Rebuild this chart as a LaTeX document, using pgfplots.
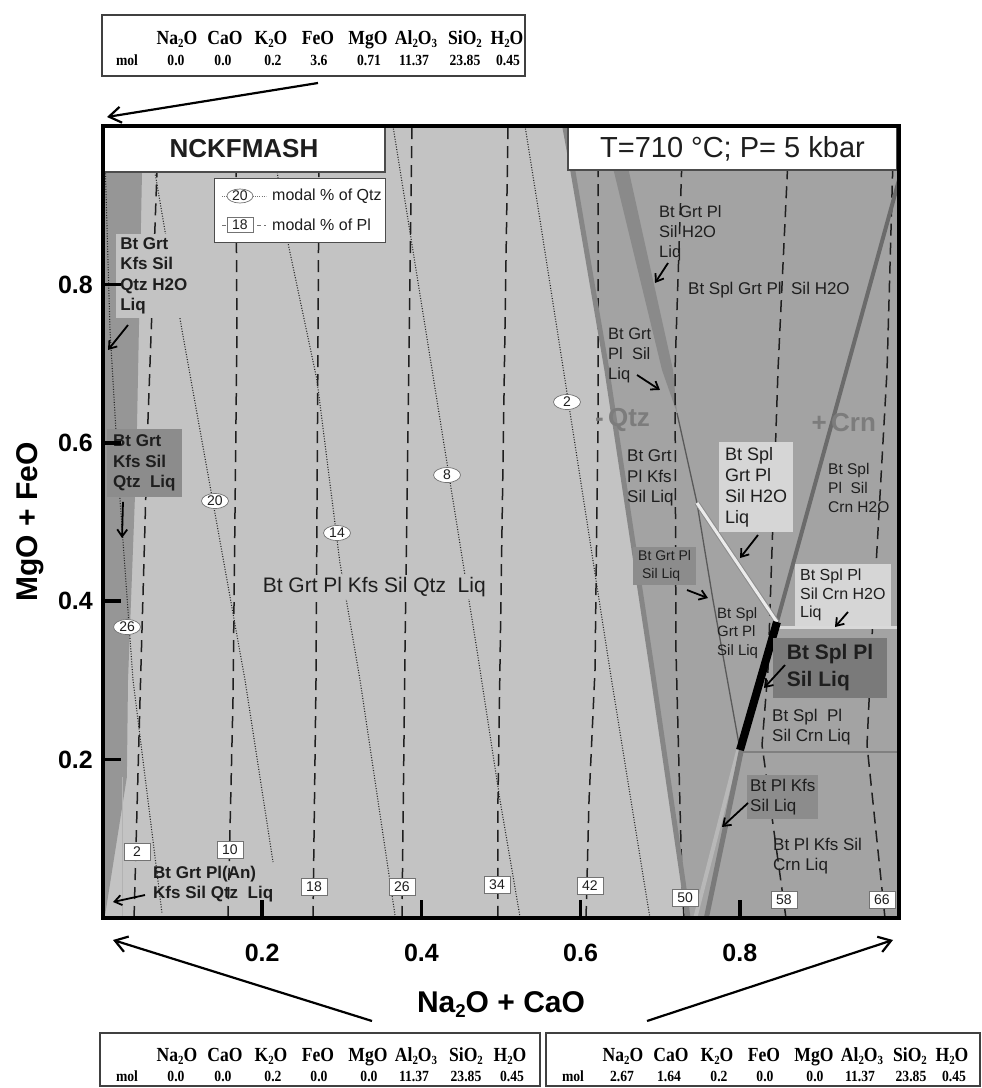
\documentclass[border=0pt]{standalone}
\usepackage{pgfplots}
\pgfplotsset{compat=1.18}
\usepackage{graphicx}
\usepackage{fontspec}
\setmainfont{Liberation Sans}
\newfontfamily\tabfont[FakeStretch=0.88]{Liberation Serif}
\usetikzlibrary{arrows.meta,shapes.geometric}
\definecolor{lightbg}{HTML}{C3C3C3}
\definecolor{medbg}{HTML}{A3A3A3}
\definecolor{darkstrip}{HTML}{969696}
\definecolor{sliver}{HTML}{8A8A8A}
\definecolor{qline}{HTML}{868686}
\definecolor{txt}{HTML}{1E1E1E}
\definecolor{boxdark}{HTML}{8C8C8C}
\definecolor{boxlight}{HTML}{D6D6D6}
\definecolor{isogray}{HTML}{7C7C7C}
\newcommand\fs[2]{\fontsize{#1}{#2}\selectfont}
\newcommand\sub[1]{\raisebox{-0.32ex}{\scalebox{0.62}{#1}}}
\tikzset{
 fl/.style={font=\fs{17}{20.5}, text=txt, align=left, anchor=west, inner sep=0pt},
 flb/.style={fl, font=\fs{17}{20.5}\bfseries},
 qiso/.style={ellipse, draw=black!55, line width=0.7pt, fill=white, inner sep=0pt, minimum width=27pt, minimum height=15pt, font=\fs{14}{16}, text=txt},
 piso/.style={rectangle, draw=black!55, line width=0.7pt, fill=white, inner sep=0pt, minimum width=26pt, minimum height=17pt, font=\fs{14}{16}, text=txt},
 arr/.style={-{Straight Barb[length=7pt,width=10pt]}, line width=1.8pt, black},
 plL/.style={color=black!88, line width=1.5pt, dash pattern=on 12pt off 7pt},
 qzL/.style={color=black!85, line width=1.1pt, dash pattern=on 1pt off 1.6pt},
 th/.style={font=\tabfont\bfseries\fs{20}{22}, inner sep=0pt, anchor=base},
 tv/.style={font=\tabfont\bfseries\fs{15.5}{18}, inner sep=0pt, anchor=base},
}
\begin{document}
\begin{tikzpicture}
\useasboundingbox (0pt,0pt) rectangle (982pt,1088pt);
\begin{axis}[
  at={(103pt,170pt)}, anchor=south west,
  scale only axis, width=796pt, height=792pt,
  xmin=0, xmax=1, ymin=0, ymax=1,
  axis on top,
  axis line style={line width=3.5pt, black},
  xtick={0.2,0.4,0.6,0.8}, ytick={0.2,0.4,0.6,0.8},
  xticklabels={0.2,0.4,0.6,0.8}, yticklabels={0.2,0.4,0.6,0.8},
  tick pos=left, tick align=inside, major tick length=18pt,
  every tick/.style={line width=3.5pt, black},
  xticklabel style={font=\fs{25}{28}\bfseries, anchor=center, yshift=-35pt},
  yticklabel style={font=\fs{25}{28}\bfseries, anchor=east, inner sep=0pt, xshift=-10pt},
  xlabel={Na\sub{2}O + CaO}, ylabel={MgO + FeO},
  xlabel style={font=\fs{30}{34}\bfseries, at={(axis description cs:0.5,-0.1098)}, anchor=center},
  ylabel style={font=\fs{30}{34}\bfseries, at={(axis description cs:-0.0917,0.5)}, anchor=center},
]
% ---- fields
\addplot[fill=lightbg, draw=none] coordinates {(0,0) (1,0) (1,1) (0,1)};
\addplot[fill=medbg, draw=none] coordinates {(0.580,1.0) (1,1) (1,0) (0.735,0) (0.729,0.044) (0.690,0.313) (0.633,0.692) (0.5905,0.942)};
\addplot[fill=darkstrip, draw=none] coordinates {(0,1.0) (0.049,1.0) (0.049,0.942) (0.0427,0.62) (0.040,0.528) (0.0314,0.30) (0.030,0.178) (0.003,0.006) (0,0)};
\addplot[fill=sliver, draw=none] coordinates {(0.628,1.0) (0.648,1.0) (0.7161,0.6919) (0.7211,0.6376) (0.7023,0.6919)};
\addplot[color=black!30, line width=1pt] coordinates {(0.025,0) (0.025,0.178)};
% ---- Pl isopleths (dashed)
\addplot[plL] coordinates {(0.039,0) (0.0465,0.2753) (0.0565,0.6288) (0.0678,0.9419)};
\addplot[plL] coordinates {(0.157,0) (0.1633,0.2753) (0.1683,0.7424) (0.167,0.96)};
\addplot[plL] coordinates {(0.2638,0) (0.2676,0.3005) (0.2714,0.96)};
\addplot[plL] coordinates {(0.3756,0) (0.3794,0.3384) (0.3882,1.0)};
\addplot[plL] coordinates {(0.4962,0) (0.4962,0.149) (0.5088,1.0)};
\addplot[plL] coordinates {(0.6068,0) (0.6106,0.149) (0.6181,0.3131) (0.6219,0.6288) (0.6219,0.96)};
\addplot[plL] coordinates {(0.7299,0) (0.7274,0.0442) (0.7198,0.3384) (0.7186,0.6919) (0.7274,0.96)};
\addplot[plL] coordinates {(0.858,0) (0.8279,0.2184) (0.8354,0.3131) (0.848,0.6919) (0.8606,0.96)};
\addplot[plL] coordinates {(0.9824,0) (0.9598,0.2184) (0.9661,0.3548) (0.985,0.6919) (0.9925,0.96)};
% ---- Qtz isopleths (dotted)
\addplot[qzL] coordinates {(0.0025,0.96) (0.0088,0.7424) (0.0214,0.5278) (0.0377,0.3005) (0.0741,0.0063)};
\addplot[qzL] coordinates {(0.0553,1.0) (0.0992,0.7424) (0.1784,0.3005) (0.2136,0.0707)};
\addplot[qzL] coordinates {(0.21,1.0) (0.2324,0.8523) (0.2688,0.6793) (0.2977,0.4482) (0.3229,0.3005) (0.3668,0.0038)};
\addplot[qzL] coordinates {(0.3643,1.0) (0.4698,0.3384) (0.4987,0.149) (0.5239,0.0013)};
\addplot[qzL] coordinates {(0.5302,1.0) (0.549,0.8813) (0.5804,0.6793) (0.6369,0.3131) (0.6834,0.0227) (0.6872,0)};
% ---- boundaries
\addplot[color=qline, line width=5pt] coordinates {(0.580,1.0) (0.5905,0.942) (0.633,0.692) (0.690,0.313) (0.729,0.044) (0.735,0)};
\addplot[color=black!65, line width=1.3pt] coordinates {(0.7211,0.6376) (0.7462,0.524) (0.7663,0.4015) (0.8003,0.2121)};
\addplot[color=black!58, line width=4pt] coordinates {(1.0,0.932) (0.8467,0.3737)};
\addplot[color=black!45, line width=5pt] coordinates {(0.7462,0.524) (0.8467,0.3737)};
\addplot[color=white!92!black, line width=3pt] coordinates {(0.7462,0.524) (0.8467,0.3737)};
\addplot[color=white!85!black, line width=3pt] coordinates {(0.848,0.3674) (1,0.3674)};
\addplot[color=black!50, line width=1.5pt] coordinates {(0.8003,0.2096) (1,0.2096)};
\addplot[color=black!28, line width=4pt] coordinates {(0.798,0.2121) (0.744,0)};
\addplot[color=black!52, line width=5pt] coordinates {(0.802,0.2121) (0.758,0)};
\addplot[color=black, line width=8pt] coordinates {(0.8467,0.3737) (0.8003,0.2121)};
% ---- headers
\node[draw=black!70, line width=1.2pt, fill=white, minimum width=282pt, minimum height=46pt, inner sep=0pt, font=\fs{26}{30}\bfseries, text=txt] at (axis cs:0.1771,0.9710) {NCKFMASH};
\node[draw=black!70, line width=1.2pt, fill=white, minimum width=329pt, minimum height=43pt, inner sep=0pt, font=\fs{29}{32}, text=txt] at (axis cs:0.7908,0.9716) {T=710 °C; P= 5 kbar};
% ---- legend
\node[draw=black!70, line width=1pt, fill=white, minimum width=171pt, minimum height=64pt, inner sep=0pt] at (axis cs:0.2469,0.8939) {};
\draw[black!55, line width=0.7pt, dash pattern=on 1pt off 1.2pt] (axis cs:0.1495,0.9116) -- (axis cs:0.2048,0.9116);
\node[qiso, minimum width=26pt, minimum height=13pt] at (axis cs:0.1721,0.9116) {20};
\draw[black!55, line width=0.8pt, dash pattern=on 4pt off 3pt] (axis cs:0.1495,0.875) -- (axis cs:0.2048,0.875);
\node[piso, minimum height=15pt] at (axis cs:0.1721,0.875) {18};
\node[anchor=west, font=\fs{16}{19}, text=txt, inner sep=0pt] at (axis cs:0.2123,0.9116) {modal \% of Qtz};
\node[anchor=west, font=\fs{16}{19}, text=txt, inner sep=0pt] at (axis cs:0.2123,0.875) {modal \% of Pl};
% ---- Qtz isopleth labels
\node[qiso] at (axis cs:0.0302,0.3674) {26};
\node[qiso] at (axis cs:0.1407,0.5265) {20};
\node[qiso] at (axis cs:0.294,0.4861) {14};
\node[qiso] at (axis cs:0.4322,0.5593) {8};
\node[qiso] at (axis cs:0.5829,0.6515) {2};
% ---- Pl isopleth labels
\node[piso] at (axis cs:0.0427,0.0833) {2};
\node[piso] at (axis cs:0.1595,0.0859) {10};
\node[piso] at (axis cs:0.2651,0.0391) {18};
\node[piso] at (axis cs:0.3756,0.0391) {26};
\node[piso] at (axis cs:0.495,0.0417) {34};
\node[piso] at (axis cs:0.6118,0.0404) {42};
\node[piso] at (axis cs:0.7312,0.0253) {50};
\node[piso] at (axis cs:0.8555,0.0227) {58};
\node[piso] at (axis cs:0.9786,0.0227) {66};
% ---- field labels
\node[flb, fill=lightbg, inner xsep=4pt, inner ysep=4pt] at (axis cs:0.0164,0.8106) {Bt Grt\\Kfs Sil\\Qtz H2O\\Liq};
\draw[arr] (axis cs:0.0314,0.7487) -- (axis cs:0.0063,0.7172);
\node[flb, fill=boxdark, inner xsep=6pt, inner ysep=6pt] at (axis cs:0.0050,0.5745) {Bt Grt\\Kfs Sil\\Qtz\ \ Liq};
\draw[arr] (axis cs:0.0251,0.5253) -- (axis cs:0.0239,0.4798);
\node[fl, font=\fs{21}{25}, fill=lightbg, inner sep=2pt] at (axis cs:0.198,0.4179) {Bt Grt Pl Kfs Sil Qtz\ \ Liq};
\node[flb] at (axis cs:0.0628,0.0429) {Bt Grt Pl(An)\\Kfs Sil Qtz\ \ Liq};
\draw[arr] (axis cs:0.0528,0.029) -- (axis cs:0.0126,0.0202);
\node[fl, font=\fs{16.5}{20}] at (axis cs:0.6985,0.8649) {Bt Grt Pl\\Sil H2O\\Liq};
\draw[arr] (axis cs:0.7098,0.827) -- (axis cs:0.6935,0.8018);
\node[fl] at (axis cs:0.7349,0.7929) {Bt Spl Grt Pl\ \ Sil H2O};
\node[fl, font=\fs{16.5}{20}] at (axis cs:0.6344,0.7109) {Bt Grt\\Pl\ \ Sil\\Liq};
\draw[arr] (axis cs:0.6709,0.6856) -- (axis cs:0.6997,0.6667);
\node[fl, font=\fs{26}{30}\bfseries, text=isogray] at (axis cs:0.6180,0.6288) {-\,Qtz};
\node[fl, font=\fs{26}{30}\bfseries, text=isogray] at (axis cs:0.890,0.625) {+\,Crn};
\node[fl] at (axis cs:0.6583,0.5556) {Bt Grt\\Pl Kfs\\Sil Liq};
\node[fl, font=\fs{18}{21}, fill=boxlight, inner xsep=6pt, inner ysep=5pt] at (axis cs:0.7739,0.5442) {Bt Spl\\Grt Pl\\Sil H2O\\Liq};
\draw[arr] (axis cs:0.8229,0.4836) -- (axis cs:0.8003,0.4545);
\node[fl, font=\fs{15.5}{19}] at (axis cs:0.9108,0.5429) {Bt Spl\\Pl\ \ Sil\\Crn H2O};
\node[fl, font=\fs{14}{17.5}, fill=boxdark, inner xsep=5pt, inner ysep=4pt] at (axis cs:0.6658,0.4444) {Bt Grt Pl\\\ Sil Liq};
\draw[arr] (axis cs:0.7337,0.4141) -- (axis cs:0.76,0.404);
\node[fl, font=\fs{15}{18.5}] at (axis cs:0.7714,0.3598) {Bt Spl\\Grt Pl\\Sil Liq};
\node[fl, font=\fs{16}{18.5}, fill=boxlight, inner xsep=5pt, inner ysep=5pt] at (axis cs:0.8693,0.4078) {Bt Spl Pl\\Sil Crn H2O\\Liq};
\draw[arr] (axis cs:0.9359,0.3864) -- (axis cs:0.9196,0.3674);
\node[fl, font=\fs{21}{27}\bfseries, fill=black!52, inner xsep=14pt, inner ysep=7pt] at (axis cs:0.8413,0.3157) {Bt Spl Pl\\Sil Liq};
\draw[arr] (axis cs:0.8568,0.3194) -- (axis cs:0.8304,0.2904);
\node[fl] at (axis cs:0.8405,0.2412) {Bt Spl\ \ Pl\\Sil Crn Liq};
\node[fl, fill=boxdark, inner xsep=3pt, inner ysep=4pt] at (axis cs:0.8090,0.1528) {Bt Pl Kfs\\Sil Liq};
\draw[arr] (axis cs:0.8103,0.1452) -- (axis cs:0.7776,0.1149);
\node[fl] at (axis cs:0.8417,0.0783) {Bt Pl Kfs Sil\\Crn Liq};
\end{axis}
% ---- top table
\draw[black!75, line width=1.3pt] (102pt,1012pt) rectangle (525pt,1073pt);
\foreach \x/\t in {177/Na\sub{2}O, 225/CaO, 271/K\sub{2}O, 318/FeO, 368/MgO, 416/Al\sub{2}O\sub{3}, 465/SiO\sub{2}, 507/H\sub{2}O}
  \node[th] at (\x pt,1043.5pt) {\t};
\foreach \x/\t in {127/mol, 176/0.0, 223/0.0, 273/0.2, 319/3.6, 369/0.71, 414/11.37, 465/23.85, 508/0.45}
  \node[tv] at (\x pt,1022pt) {\t};
\draw[-{Straight Barb[length=12pt,width=16pt]}, line width=2.2pt] (318pt,1005pt) -- (107pt,971pt);
% ---- bottom tables
\draw[black!75, line width=1.3pt] (100pt,2pt) rectangle (540pt,55pt);
\foreach \x/\t in {177/Na\sub{2}O, 225/CaO, 271/K\sub{2}O, 318/FeO, 368/MgO, 416/Al\sub{2}O\sub{3}, 466/SiO\sub{2}, 510/H\sub{2}O}
  \node[th] at (\x pt,26.5pt) {\t};
\foreach \x/\t in {127/mol, 176/0.0, 223/0.0, 273/0.2, 319/0.0, 369/0.0, 414/11.37, 466/23.85, 512/0.45}
  \node[tv] at (\x pt,6pt) {\t};
\draw[black!75, line width=1.3pt] (546pt,2pt) rectangle (980pt,55pt);
\foreach \x/\t in {623/Na\sub{2}O, 671/CaO, 717/K\sub{2}O, 764/FeO, 814/MgO, 862/Al\sub{2}O\sub{3}, 910/SiO\sub{2}, 952/H\sub{2}O}
  \node[th] at (\x pt,26.5pt) {\t};
\foreach \x/\t in {573/mol, 622/2.67, 669/1.64, 719/0.2, 765/0.0, 815/0.0, 860/11.37, 911/23.85, 954/0.45}
  \node[tv] at (\x pt,6pt) {\t};
\draw[-{Straight Barb[length=12pt,width=16pt]}, line width=2.2pt] (372pt,67pt) -- (113pt,148pt);
\draw[-{Straight Barb[length=12pt,width=16pt]}, line width=2.2pt] (647pt,67pt) -- (893pt,148pt);
\end{tikzpicture}
\end{document}
